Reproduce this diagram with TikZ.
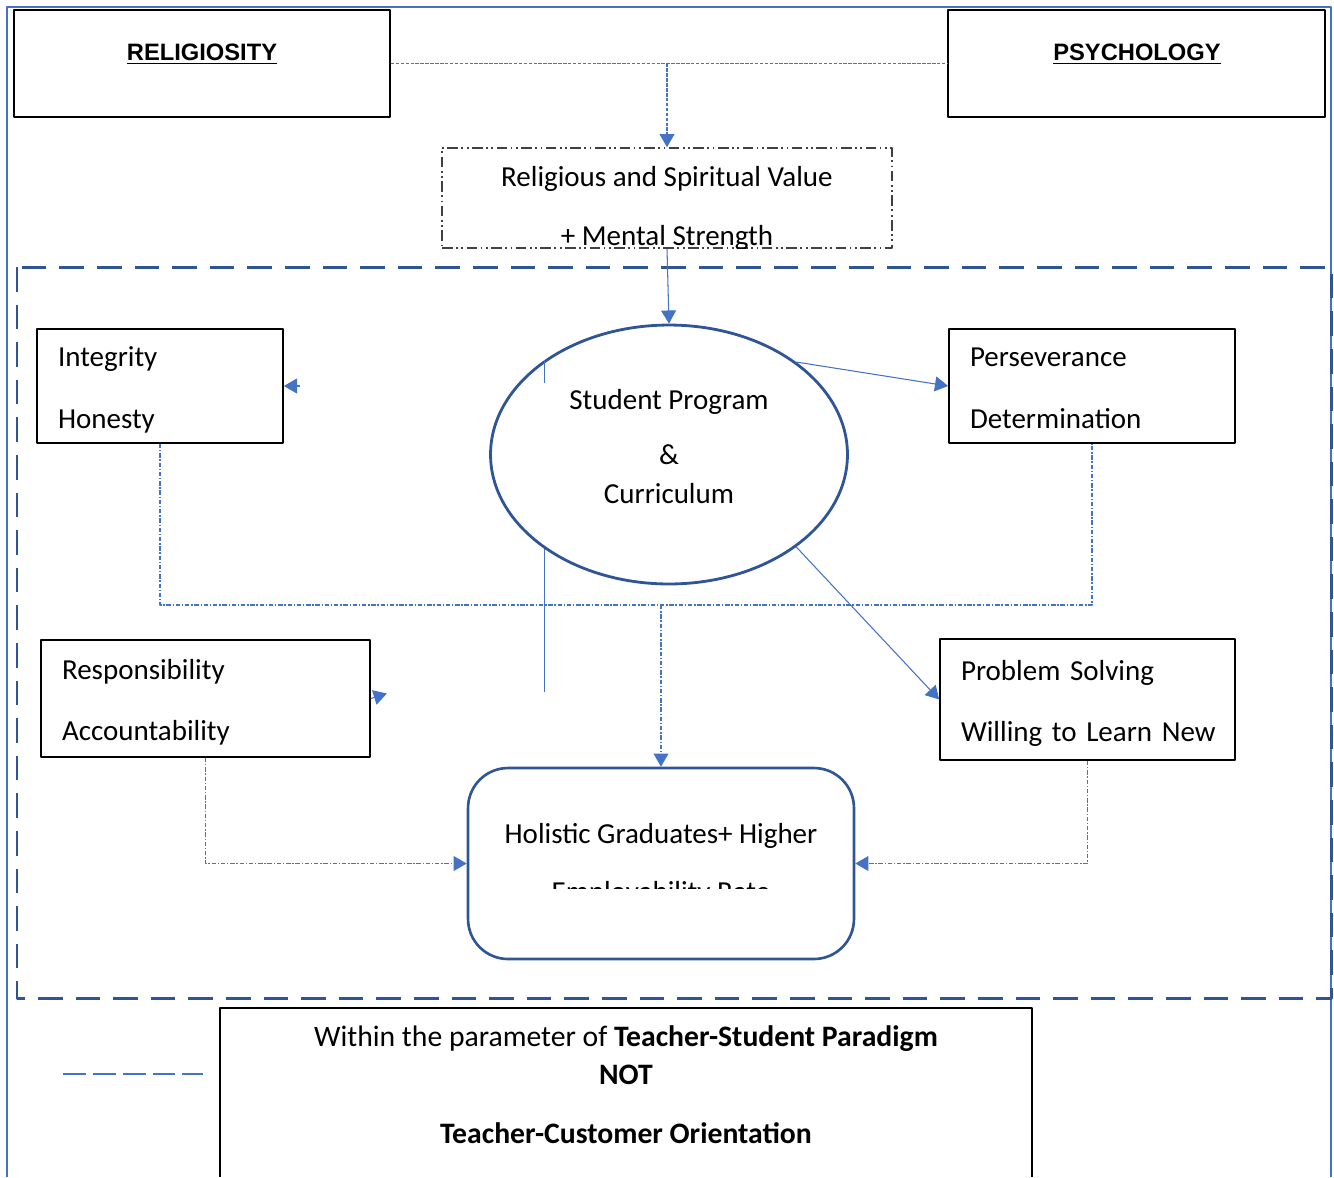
\documentclass[tikz,border=0pt]{standalone}
\usepackage{fontspec}
\setmainfont{Carlito}
\newfontfamily\headfont{Liberation Sans}
\usetikzlibrary{arrows.meta,shapes.geometric}
\definecolor{lblue}{HTML}{4472C4}
\definecolor{dblue}{HTML}{2F5597}
\definecolor{dgray}{HTML}{404040}
\begin{document}
\begin{tikzpicture}[x=0.02cm,y=-0.02cm,line join=round,>={Triangle[length=7.5pt,width=8.5pt]},font=\fontsize{16.5}{35}\selectfont,
box/.style={draw=black,line width=1pt,align=left,inner xsep=0.42cm,inner ysep=0pt},
head/.style={inner sep=0pt,font=\headfont\fontsize{13.5}{16}\selectfont\bfseries},
txt/.style={inner sep=0pt,anchor=base},
dotline/.style={lblue,line width=0.6pt,dash pattern=on 2.5pt off 1pt on 0.8pt off 1pt},
fineline/.style={lblue,line width=0.7pt,dash pattern=on 2pt off 0.8pt},
arr/.style={lblue,line width=0.6pt,->}]
\def\up{\rule{0pt}{16pt}}
\def\dn{\rule[-3pt]{0pt}{3pt}}
\useasboundingbox (0,0) rectangle (1334,1177);
\draw[lblue,line width=1.1pt] (7,1177) |- (1331,7) -- (1331,1177);
\draw[dblue,line width=1.7pt,dash pattern=on 14pt off 7.4pt] (17,267) rectangle (1331,998);
\node[draw,line width=1pt,minimum width=7.52cm,minimum height=2.14cm] (relig) at (202,63.5) {};
\node[draw,line width=1pt,minimum width=7.54cm,minimum height=2.14cm] (psych) at (1136.5,63.5) {};
\node[head] (religt) at (202,54) {\underline{RELIGIOSITY}};
\node[head] (psycht) at (1137,54) {\underline{PSYCHOLOGY}};
\node[draw=dgray,line width=0.9pt,dash pattern=on 6pt off 2pt on 1pt off 2pt on 1pt off 2pt,minimum width=9cm,minimum height=2cm] (value) at (667,198) {};
\begin{scope}
\clip (442,148) rectangle (892,248);
\node[txt] (val1) at (667,186) {Religious and Spiritual Value};
\node[txt] (val2) at (667,245) {+ Mental Strength};
\end{scope}
\draw[fineline] (relig.east) -- (psych.west);
\draw[fineline,->] (relig.east -| value.north) -- (value.north);
\node[draw=dblue,line width=1.6pt,ellipse,minimum width=7.14cm,minimum height=5.18cm,inner sep=0pt] (sp) at (669,454.5) {};
\foreach \t/\y [count=\i] in {Student Program/409,\&/464,Curriculum/503}
  \node[txt] (sp\i) at (669,\y) {\t};
\node[box,minimum width=4.92cm,minimum height=2.28cm,text width=4.08cm] (integ) at (160,386) {\up Integrity\\Honesty\dn};
\node[box,minimum width=5.72cm,minimum height=2.28cm,text width=4.88cm] (pers) at (1092,386) {\up Perseverance\\Determination\dn};
\node[box,minimum width=6.58cm,minimum height=2.34cm,text width=5.74cm] (resp) at (205.5,698.5) {\up Responsibility\\Accountability\dn};
\node[box,minimum width=5.9cm,minimum height=2.42cm,text width=5.06cm] (prob) at (1087.5,699.5) {\up\mbox{Problem Solving}\\\mbox{Willing to Learn New}\dn};
\node[draw=dblue,line width=1.5pt,rounded corners=0.8cm,minimum width=7.72cm,minimum height=3.82cm] (holi) at (661,863.5) {};
\begin{scope}
\clip (468,768) rectangle (854,888);
\node[txt] (holi1) at (661,843) {Holistic Graduates+ Higher};
\node[txt] (holi2) at (661,901) {Employability Rate};
\end{scope}
\draw[arr] (value.south) -- (sp.north);
\draw[arr] (sp.36) -- (pers.west);
\draw[arr] (sp.-36) -- (prob.west);
\draw[lblue,line width=0.6pt] (sp.143) -- ++(0,23) (sp.-143) -- ++(0,143);
\draw[arr] ([xshift=0.32cm]integ.east) -- (integ.east);
\draw[arr] (resp.east) -- ++(16,-5);
\coordinate (mid) at (661,605);
\draw[dotline] (integ.south) |- (mid) -| (pers.south);
\draw[dotline,->] (mid) -- (holi.north);
\draw[dotline,->] (resp.south) |- (holi.west);
\draw[dotline,->] (prob.south) |- (holi.east);
\draw[lblue,line width=1.6pt,dash pattern=on 13pt off 4pt] (63,1074) -- (203,1074);
\draw[line width=1pt] (220,1177) |- (1032,1008) -- (1032,1177);
\begin{scope}[font=\fontsize{16.9}{20}\selectfont]
\node[txt] (note1) at (626,1046) {Within the parameter of \textbf{Teacher-Student Paradigm}};
\node[txt] (note2) at (626,1084) {\textbf{NOT}};
\node[txt] (note3) at (626,1143) {\textbf{Teacher-Customer Orientation}};
\end{scope}
\end{tikzpicture}
\end{document}
